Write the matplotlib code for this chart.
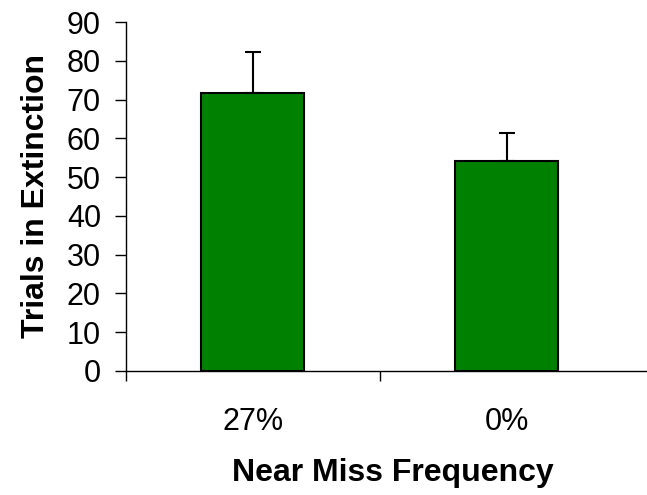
import matplotlib

matplotlib.use("Agg")
import matplotlib.pyplot as plt

categories = ["27%", "0%"]
means = [71.7, 54.1]
upper_err = [10.6, 7.2]
y_ticks = list(range(0, 91, 10))

plt.rcParams["font.family"] = ["Liberation Sans", "DejaVu Sans"]

fig = plt.figure(figsize=(6.47, 4.95), dpi=100)
ax = fig.add_axes([126 / 647, 1 - 371 / 495, 1 - 126 / 647, (371 - 22) / 495])

x = list(range(len(categories)))
ax.bar(x, means, width=0.405, color="#008000", edgecolor="black", linewidth=1.5, zorder=2)
ax.errorbar(x, means, yerr=[[0] * len(means), upper_err], fmt="none",
            ecolor="black", elinewidth=1.5, capsize=6, capthick=1.5, zorder=3)

ax.set_ylim(0, 90)
ax.set_xlim(-0.5, 1.553)
ax.set_yticks(y_ticks)
ax.tick_params(axis="y", direction="out", length=8, width=1, colors="black",
               labelsize=22, pad=10)

# category separators as major ticks, labels on minor ticks
ax.set_xticks([-0.5, 0.5])
ax.set_xticklabels([])
ax.tick_params(axis="x", which="major", direction="out", length=7, width=1)
ax.set_xticks(x, minor=True)
ax.set_xticklabels(categories, minor=True)
ax.tick_params(axis="x", which="minor", length=0, labelsize=22, pad=26)

for side in ("top", "right"):
    ax.spines[side].set_visible(False)
ax.spines["left"].set_linewidth(1)
ax.spines["bottom"].set_linewidth(1)

fig.text(393 / 647, 1 - 473 / 495, "Near Miss Frequency", ha="center", va="center",
         fontsize=23, fontweight="bold")
fig.text(36 / 647, 1 - 196 / 495, "Trials in Extinction", ha="center", va="center",
         rotation=90, fontsize=23, fontweight="bold")

fig.savefig("out.png", dpi=100)
